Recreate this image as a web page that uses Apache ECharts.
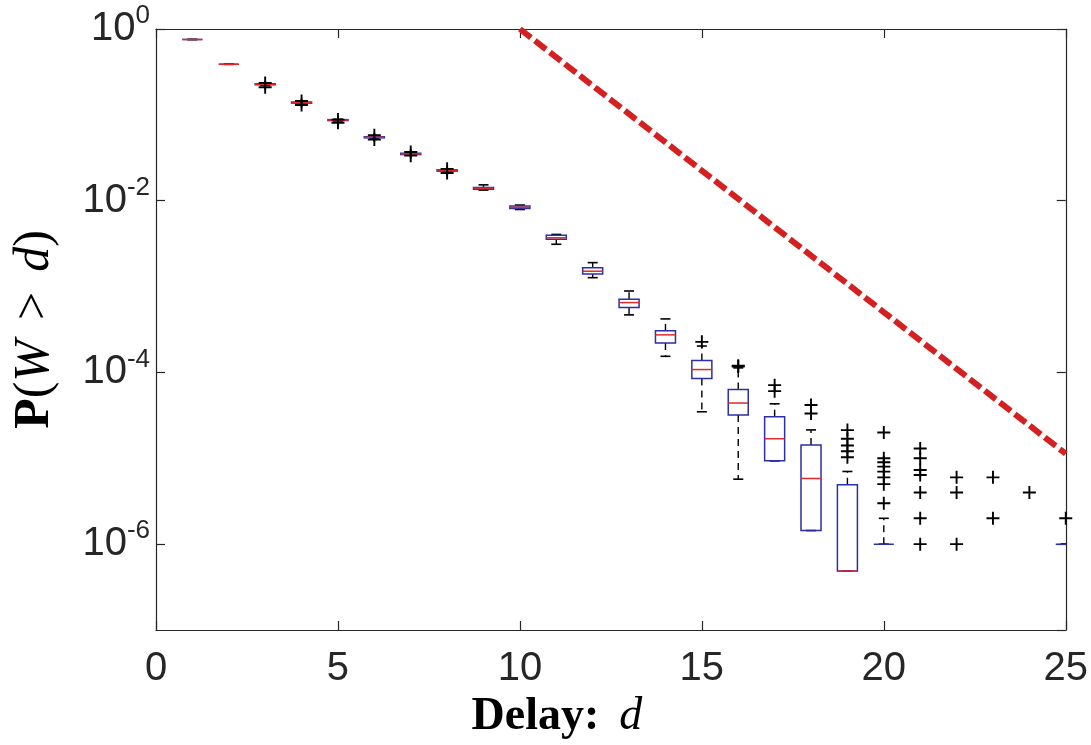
<!DOCTYPE html>
<html><head><meta charset="utf-8">
<script src="https://cdn.jsdelivr.net/npm/echarts@6/dist/echarts.min.js"></script>
<style>html,body{margin:0;padding:0;background:#fff}#c{width:1091px;height:745px}</style>
</head><body><div id="c"></div>
<script>
// ---- data ----
const delays = [1,2,3,4,5,6,7,8,9,10,11,12,13,14,15,16,17,18,19,20,21,22,23,24,25];
const whiskerLow  = [0.755,0.388,0.221,0.135,0.0848,0.0532,0.0339,0.0217,0.0133,0.0079,0.00311,0.00127,4.68e-4,1.54e-4,3.48e-5,5.71e-6,9.33e-6,1.44e-6,4.86e-7,1e-6,null,null,null,null,1e-6];
const quart1      = [0.755,0.388,0.224,0.137,0.0858,0.0540,0.0345,0.0221,0.0136,0.0081,0.00356,0.00140,5.70e-4,2.20e-4,8.48e-5,3.19e-5,9.33e-6,1.44e-6,4.86e-7,1e-6,null,null,null,null,1e-6];
const medians     = [0.755,0.388,0.227,0.139,0.0869,0.0548,0.0351,0.0225,0.0140,0.00836,0.00370,0.00151,6.51e-4,2.74e-4,1.08e-4,4.40e-5,1.69e-5,5.82e-6,4.86e-7,null,null,null,null,null,null];
const quart3      = [0.755,0.388,0.230,0.141,0.0880,0.0556,0.0357,0.0229,0.0143,0.0087,0.00396,0.00166,7.11e-4,3.05e-4,1.38e-4,6.32e-5,3.05e-5,1.43e-5,4.92e-6,1e-6,null,null,null,null,1e-6];
const whiskerHigh = [0.755,0.388,0.233,0.143,0.089,0.0564,0.0363,0.0232,0.0153,0.0089,0.00405,0.00190,8.88e-4,4.20e-4,2.03e-4,1.13e-4,4.31e-5,2.14e-5,7.02e-6,2e-6,null,null,null,null,1e-6];
const outliers = [
  [], [], [0.235,0.21], [0.145,0.130], [0.088,0.081], [0.058,0.0515], [0.037,0.0335], [0.0235,0.021],
  [], [], [], [], [], [],
  [2.27e-4], [1.17e-4,1.2e-4], [7.11e-5,6.05e-5], [4.17e-5,3.33e-5],
  [2.13e-5,1.69e-5,1.41e-5,1.21e-5,1.03e-5],
  [2e-5,1e-5,9e-6,8e-6,7e-6,6e-6,5e-6,3e-6],
  [1.3e-5,1e-5,7.3e-6,6.4e-6,4e-6,2e-6,1e-6],
  [6e-6,4e-6,1e-6], [6e-6,2e-6], [4e-6], [2e-6]
];
const boundDelay = [10, 25];
const boundProb  = [1, 1.13e-5];
const xTickStep = 5;
const yDecadeMin = 0, yDecadeMax = 7, yDecadeStep = 2;   // tick labels 10^0, 10^-2, 10^-4, 10^-6

// ---- build series data ----
const boxData = [];
delays.forEach((d, i) => {
  if (quart1[i] != null) boxData.push([d, whiskerLow[i], quart1[i], medians[i] == null ? NaN : medians[i], quart3[i], whiskerHigh[i]]);
});
const outlierData = [];
delays.forEach((d, i) => outliers[i].forEach(v => outlierData.push([d, v])));
const boundData = boundDelay.map((d, i) => [d, boundProb[i]]);

const AX = '#262626';
const BLUE = '#2b2fa8', RED = '#e02828';

function renderBox(params, api) {
  const d = api.value(0);
  const lo = api.value(1), a = api.value(2), m = api.value(3), b = api.value(4), hi = api.value(5);
  const xL = api.coord([d - 0.275, 1])[0], xR = api.coord([d + 0.275, 1])[0];
  const x = (xL + xR) / 2, half = (xR - xL) / 2, capHalf = half * 0.5;
  const yLo = api.coord([d, lo])[1], yA = api.coord([d, a])[1], yB = api.coord([d, b])[1], yHi = api.coord([d, hi])[1];
  const ch = [];
  const dash = {stroke: '#000', lineWidth: 1.4, lineDash: [7, 5], fill: null};
  const solid = {stroke: '#000', lineWidth: 1.6, fill: null};
  if (yHi < yB - 0.5) ch.push({type: 'line', shape: {x1: x, y1: yB, x2: x, y2: yHi}, style: dash});
  if (yLo > yA + 0.5) ch.push({type: 'line', shape: {x1: x, y1: yA, x2: x, y2: yLo}, style: dash});
  ch.push({type: 'line', shape: {x1: x - capHalf, y1: yHi, x2: x + capHalf, y2: yHi}, style: solid});
  ch.push({type: 'line', shape: {x1: x - capHalf, y1: yLo, x2: x + capHalf, y2: yLo}, style: solid});
  ch.push({type: 'polygon', shape: {points: [[x - half, yB], [x + half, yB], [x + half, yA], [x - half, yA]]},
           style: {stroke: BLUE, lineWidth: 1.5, fill: null}});
  if (m != null && !isNaN(m)) {
    const yM = api.coord([d, m])[1];
    ch.push({type: 'line', shape: {x1: x - half, y1: yM, x2: x + half, y2: yM}, style: {stroke: RED, lineWidth: 1.5, fill: null}});
  }
  return {type: 'group', children: ch};
}

const chart = echarts.init(document.getElementById('c'), null, {renderer: 'canvas'});
const axisLineStyle = {color: AX, width: 1.2};
const tickFont = 'Liberation Sans, Arial, sans-serif';
const serif = 'Liberation Serif, Times New Roman, serif';
const tickCommon = {show: true, inside: true, length: 9, lineStyle: axisLineStyle};

chart.setOption({
  animation: false,
  backgroundColor: '#fff',
  grid: {left: 156, top: 29, width: 910, height: 604, show: false},
  xAxis: [{
    type: 'value', min: 0, max: 25, interval: xTickStep, position: 'bottom',
    axisLine: {show: true, onZero: false, lineStyle: axisLineStyle},
    axisTick: tickCommon,
    axisLabel: {fontSize: 40, color: AX, margin: 19, fontFamily: tickFont},
    splitLine: {show: false},
    name: '{b|Delay:}{sp|}{i|d}', nameLocation: 'middle', nameGap: 64,
    nameTextStyle: {padding: [0, 108, 0, 0], rich: {
      b: {fontFamily: serif, fontWeight: 'bold', fontSize: 46, color: '#000'},
      sp: {width: 20},
      i: {fontFamily: serif, fontStyle: 'italic', fontSize: 46, color: '#000'}
    }}
  }, {
    type: 'value', min: 0, max: 25, interval: xTickStep, position: 'top',
    axisLine: {show: true, onZero: false, lineStyle: axisLineStyle},
    axisTick: tickCommon,
    axisLabel: {show: false}, splitLine: {show: false}
  }],
  yAxis: [{
    // data axis (log scale), ticks/labels drawn by the decade axes below
    type: 'log', logBase: 10, min: 1e-7, max: 1, position: 'left',
    axisLine: {show: true, onZero: false, lineStyle: axisLineStyle},
    axisTick: {show: false}, minorTick: {show: false}, splitLine: {show: false},
    axisLabel: {show: false},
    name: '{b|P}{n|(}{i|W}{sp|}{n|>}{sp|}{i|d}{n|)}', nameLocation: 'middle', nameGap: 96,
    nameTextStyle: {rich: {
      b: {fontFamily: serif, fontWeight: 'bold', fontSize: 50, color: '#000'},
      n: {fontFamily: serif, fontSize: 50, color: '#000'},
      sp: {width: 20},
      i: {fontFamily: serif, fontStyle: 'italic', fontSize: 50, color: '#000'}
    }}
  }, {
    // decade tick axis: value v means 10^-v
    type: 'value', min: yDecadeMin, max: yDecadeMax, interval: yDecadeStep, inverse: true, position: 'left',
    axisLine: {show: false}, axisTick: tickCommon, splitLine: {show: false},
    axisLabel: {
      margin: 6, color: AX, showMaxLabel: false,
      formatter: v => (v % 2 !== 0) ? '' : '{b|10}{s|' + (v === 0 ? '0' : '-' + v) + '}',
      rich: {
        b: {fontSize: 40, fontFamily: tickFont, color: AX},
        s: {fontSize: 26, fontFamily: tickFont, color: AX, padding: [0, 0, 26, 0]}
      }
    }
  }, {
    type: 'value', min: yDecadeMin, max: yDecadeMax, interval: yDecadeStep, inverse: true, position: 'right',
    axisLine: {show: true, onZero: false, lineStyle: axisLineStyle},
    axisTick: tickCommon, splitLine: {show: false},
    axisLabel: {show: false}
  }],
  series: [{
    type: 'custom', xAxisIndex: 0, yAxisIndex: 0, clip: true,
    renderItem: renderBox, data: boxData,
    encode: {x: 0, y: [1, 2, 3, 4, 5]}, z: 3
  }, {
    type: 'scatter', xAxisIndex: 0, yAxisIndex: 0, data: outlierData,
    symbol: 'path://M0,6L12,6M6,0L6,12', symbolSize: 13,
    itemStyle: {color: 'none', borderColor: '#000', borderWidth: 1.9, opacity: 1},
    z: 4, silent: true
  }, {
    type: 'line', xAxisIndex: 0, yAxisIndex: 0, data: boundData,
    symbol: 'none', clip: true,
    lineStyle: {color: '#d42020', width: 6, type: [14, 5]}, z: 5
  }]
});
</script></body></html>
